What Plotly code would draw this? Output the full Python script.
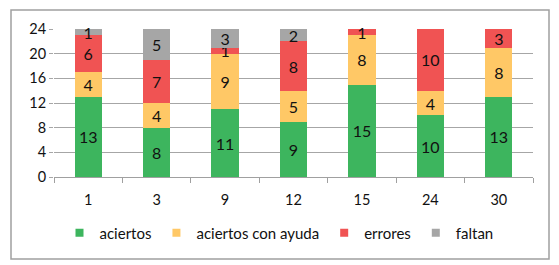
import plotly.graph_objects as go

categories = ["1", "3", "9", "12", "15", "24", "30"]
aciertos = [13, 8, 11, 9, 15, 10, 13]
aciertos_con_ayuda = [4, 4, 9, 5, 8, 4, 8]
errores = [6, 7, 1, 8, 1, 10, 3]
faltan = [1, 5, 3, 2, 0, 0, 0]

series = [
    ("aciertos", aciertos, "#3DB55E"),
    ("aciertos con ayuda", aciertos_con_ayuda, "#FFC866"),
    ("errores", errores, "#F05353"),
    ("faltan", faltan, "#A6A6A6"),
]

FONT = "Lato, 'Open Sans', sans-serif"

fig = go.Figure()
for name, vals, color in series:
    fig.add_trace(go.Bar(
        name=name, x=categories, y=vals,
        legendgroup=name, showlegend=False,
        marker=dict(color=color, line=dict(width=0)),
        text=[str(v) if v else "" for v in vals],
        textposition="inside", insidetextanchor="middle",
        textangle=0,
        textfont=dict(family=FONT, size=16, color="#111111"),
        cliponaxis=False,
    ))
# legend entries with small square swatches, as in the reference
for name, vals, color in series:
    fig.add_trace(go.Scatter(
        name=name, x=[None], y=[None], mode="markers",
        legendgroup=name, showlegend=True,
        marker=dict(symbol="square", size=8, color=color),
    ))

W, H = 559, 265
L, R, T, B = 54, 26, 29, 88
pw, ph = W - L - R, H - T - B

def px_x(x):
    return (x - L) / pw

def px_y(y):
    return (H - B - y) / ph

fig.update_layout(
    width=W, height=H,
    barmode="stack", bargap=0.6,
    margin=dict(l=L, r=R, t=T, b=B, autoexpand=False),
    paper_bgcolor="white", plot_bgcolor="white",
    font=dict(family=FONT, size=14, color="#111111"),
    uniformtext=dict(minsize=16, mode="show"),
    showlegend=True,
    legend=dict(
        orientation="h", xref="paper", yref="paper",
        x=px_x(279), xanchor="center", y=px_y(233), yanchor="middle",
        font=dict(family=FONT, size=15, color="#111111"),
        itemwidth=30, traceorder="normal",
    ),
    xaxis=dict(
        type="category", showgrid=False, showline=True,
        linecolor="#A0A0A0", linewidth=1,
        ticks="outside", tickson="boundaries", ticklen=5, tickcolor="#A0A0A0",
        ticklabelstandoff=10,
        tickfont=dict(family=FONT, size=14.5, color="#111111"),
    ),
    yaxis=dict(
        range=[0, 24], dtick=4, showgrid=True, gridcolor="#A6A6A6", gridwidth=1,
        showline=False, zeroline=False,
        ticks="outside", ticklen=4, tickcolor="#A6A6A6",
        tickfont=dict(family=FONT, size=14.5, color="#111111"),
    ),
    shapes=[dict(
        type="rect", xref="paper", yref="paper",
        x0=px_x(11), x1=px_x(549), y0=px_y(259), y1=px_y(10),
        line=dict(color="#A0A0A0", width=1.5), fillcolor="rgba(0,0,0,0)",
        layer="above",
    )],
)

fig.write_html(
    "out.html",
    config={"displayModeBar": False},
    post_script="document.body.style.margin='0';document.body.style.overflow='hidden';",
)
